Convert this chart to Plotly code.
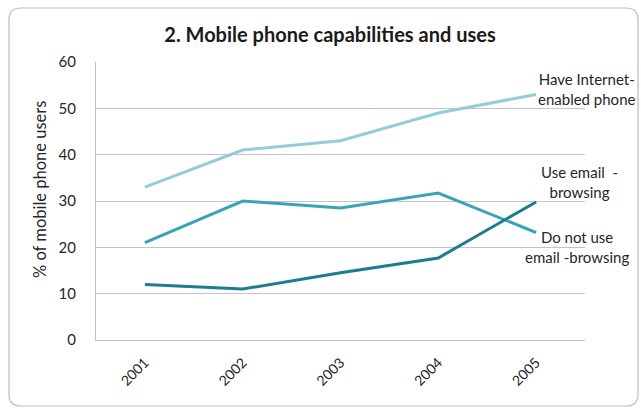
import plotly.graph_objects as go

years = ["2001", "2002", "2003", "2004", "2005"]
internet_enabled = [33, 41, 43, 49, 53]
use_email = [12, 11, 14.5, 17.7, 29.8]
not_use_email = [21, 30, 28.5, 31.7, 23.2]
y_ticks = [0, 10, 20, 30, 40, 50, 60]

W, H = 641, 412
L, R, T, B = 96, 56, 62, 72
PW, PH = W - L - R, H - T - B

def px(x):
    return (x - L) / PW

def py(y):
    return (H - B - y) / PH

FONT = "Lato, 'Open Sans', sans-serif"

fig = go.Figure()
fig.add_trace(go.Scatter(x=years, y=internet_enabled, mode="lines",
                         line=dict(color="#93cddb", width=3), name="Have Internet-enabled phone"))
fig.add_trace(go.Scatter(x=years, y=not_use_email, mode="lines",
                         line=dict(color="#38a4b8", width=3), name="Do not use email -browsing"))
fig.add_trace(go.Scatter(x=years, y=use_email, mode="lines",
                         line=dict(color="#1f7b8e", width=3), name="Use email - browsing"))

# rounded border
x0, y0, x1, y1, r = 9, 8, 638, 406, 12
def pt(x, y):
    return f"{px(x):.5f},{py(y):.5f}"
path = (f"M {pt(x0 + r, y0)} L {pt(x1 - r, y0)} Q {pt(x1, y0)} {pt(x1, y0 + r)} "
        f"L {pt(x1, y1 - r)} Q {pt(x1, y1)} {pt(x1 - r, y1)} "
        f"L {pt(x0 + r, y1)} Q {pt(x0, y1)} {pt(x0, y1 - r)} "
        f"L {pt(x0, y0 + r)} Q {pt(x0, y0)} {pt(x0 + r, y0)} Z")
fig.add_shape(type="path", path=path, xref="paper", yref="paper",
              line=dict(color="#bdbdbd", width=1.2), layer="below")

ann_font = dict(family=FONT, size=15, color="#262626")
fig.add_annotation(x=px(586), y=py(89), xref="paper", yref="paper", xanchor="center",
                   yanchor="middle", align="center", showarrow=False,
                   text="Have Internet-<br>enabled phone", font=ann_font)
fig.add_annotation(x=px(579), y=py(182), xref="paper", yref="paper", xanchor="center",
                   yanchor="middle", align="center", showarrow=False,
                   text="Use email  -<br>browsing", font=ann_font)
fig.add_annotation(x=px(577), y=py(247), xref="paper", yref="paper", xanchor="center",
                   yanchor="middle", align="center", showarrow=False,
                   text="Do not use<br>email -browsing", font=ann_font)
fig.add_annotation(x=px(40), y=py(190), xref="paper", yref="paper", xanchor="center",
                   yanchor="middle", showarrow=False, textangle=-90,
                   text="% of mobile phone users", font=dict(family=FONT, size=16.5, color="#262626"))

fig.update_layout(
    width=W, height=H,
    margin=dict(l=L, r=R, t=T, b=B),
    paper_bgcolor="white", plot_bgcolor="white",
    showlegend=False,
    title=dict(text="<b>2. Mobile phone capabilities and uses</b>", x=330 / W, xref="container",
               xanchor="center", y=1 - 35 / H, yanchor="middle",
               font=dict(family=FONT, size=20, color="#1a1a1a")),
    font=dict(family=FONT, size=14, color="#404040"),
)
fig.update_xaxes(type="category", range=[-0.5, 4.5], showgrid=False, showline=True,
                 linecolor="#c0c0c0", linewidth=1, ticks="", tickangle=-45,
                 ticklabelstandoff=8, tickfont=dict(size=14, color="#262626"))
fig.update_yaxes(range=[0, 60], tickvals=y_ticks, showgrid=True, gridcolor="#c4c4c4",
                 gridwidth=1, showline=True, linecolor="#c0c0c0", linewidth=1,
                 zeroline=False, ticks="", ticklabelstandoff=16,
                 tickfont=dict(size=15, color="#262626"))

fig.write_html("out.html", config={"displayModeBar": False},
               post_script="document.body.style.margin='0';")
